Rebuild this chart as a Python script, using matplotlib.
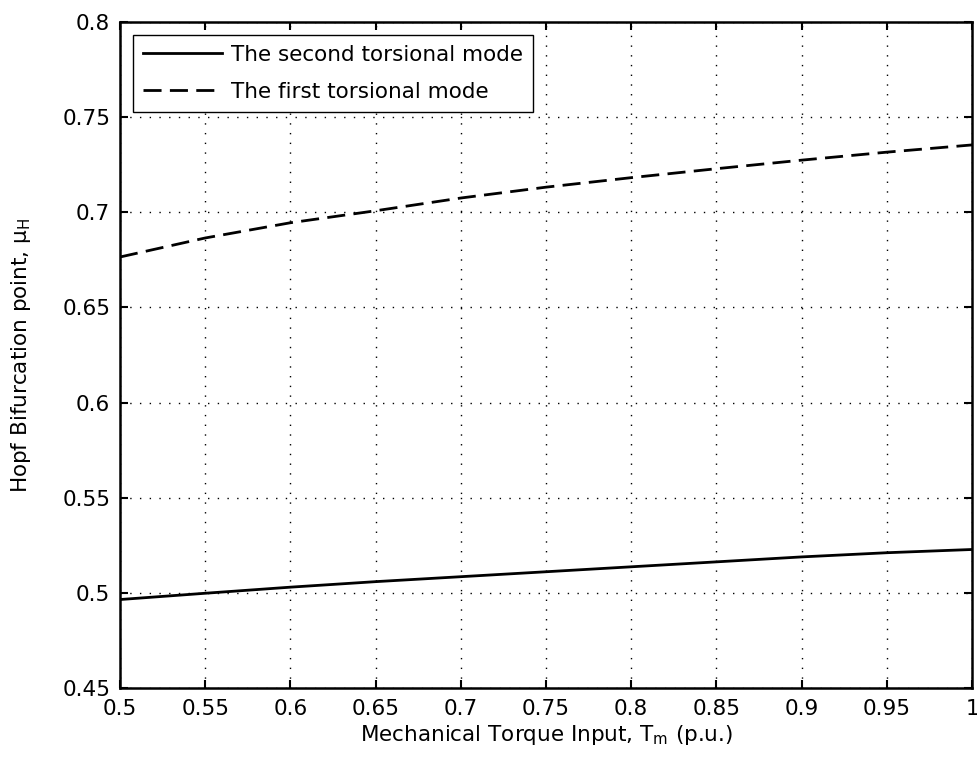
import numpy as np
import matplotlib
matplotlib.use('Agg')
import matplotlib.pyplot as plt

# dados
torque = [0.50, 0.55, 0.60, 0.65, 0.70, 0.75, 0.80, 0.85, 0.90, 0.95, 1.00]
modo_segundo = [0.4965, 0.4998, 0.5030, 0.5059, 0.5085, 0.5111, 0.5137, 0.5163, 0.5189, 0.5211, 0.5228]
modo_primeiro = [0.6765, 0.6865, 0.6945, 0.7008, 0.7075, 0.7132, 0.7182, 0.7229, 0.7274, 0.7316, 0.7354]

xticks = [0.5, 0.55, 0.6, 0.65, 0.7, 0.75, 0.8, 0.85, 0.9, 0.95, 1]
yticks = [0.45, 0.5, 0.55, 0.6, 0.65, 0.7, 0.75, 0.8]

plt.rcParams['font.family'] = ['DejaVu Sans']
fs = 15.5

fig = plt.figure(figsize=(9.78, 7.69), dpi=100)
ax = fig.add_axes([0.1227, 0.1053, 0.8712, 0.8661])

ax.plot(torque, modo_segundo, color='black', lw=2, label='The second torsional mode')
ax.plot(torque, modo_primeiro, color='black', lw=2, ls=(0, (6.5, 3)), label='The first torsional mode')

ax.set_xlim(0.5, 1)
ax.set_ylim(0.45, 0.8)
ax.set_xticks(xticks)
ax.set_xticklabels(['%g' % v for v in xticks])
ax.set_yticks(yticks)
ax.set_yticklabels(['%g' % v for v in yticks])
ax.tick_params(direction='in', length=6, width=1.5, top=True, right=True, labelsize=fs)
ax.tick_params(axis='x', pad=8)
ax.tick_params(axis='y', pad=7)
for s in ax.spines.values():
    s.set_linewidth(1.8)

ax.grid(True, color='black', lw=1, ls=(0, (1, 6)))

ax.set_xlabel('Mechanical Torque Input, $\\mathregular{T_m}$ (p.u.)', fontsize=fs, labelpad=3)
ax.set_ylabel('Hopf Bifurcation point, $\\mathregular{\\mu_H}$', fontsize=fs, labelpad=21)

leg = ax.legend(loc='upper left', fontsize=fs, fancybox=False, framealpha=1,
                edgecolor='black', borderaxespad=0.6, handlelength=3.7, handletextpad=0.4,
                borderpad=0.45, labelspacing=0.8)
leg.get_frame().set_linewidth(1)

fig.savefig('out.png', dpi=100)
